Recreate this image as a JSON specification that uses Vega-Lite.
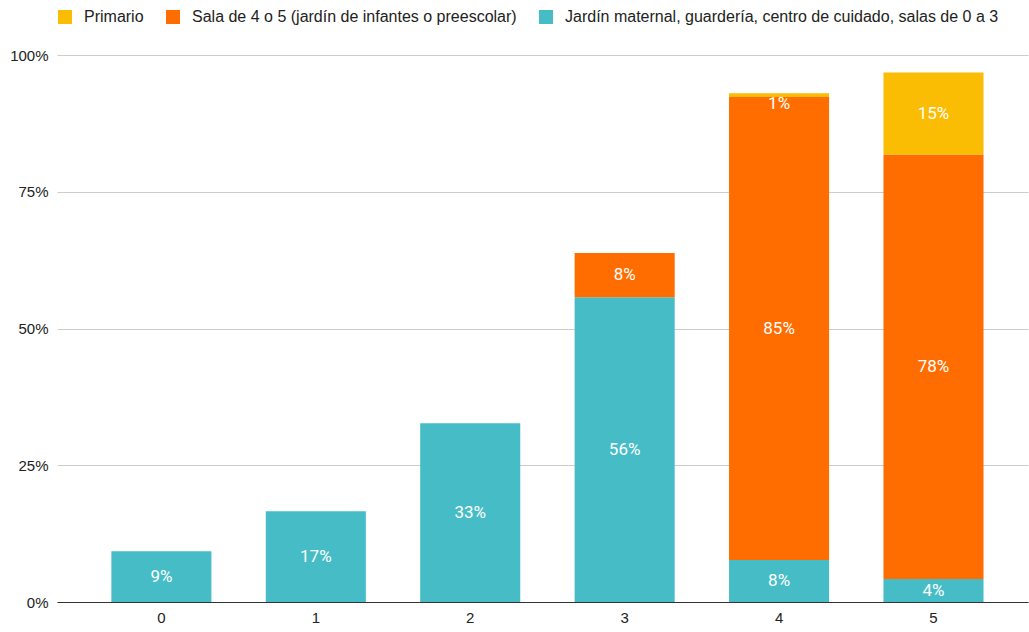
{
  "$schema": "https://vega.github.io/schema/vega-lite/v6.json",
  "width": 971,
  "height": 547,
  "autosize": "none",
  "padding": {"left": 57, "top": 55, "right": 1, "bottom": 30},
  "config": {"view": {"stroke": null}, "font": "Liberation Sans"},
  "data": {
    "values": [
      {"edad": "0", "serie": "Jardín maternal, guardería, centro de cuidado, salas de 0 a 3", "valor": 0.093},
      {"edad": "1", "serie": "Jardín maternal, guardería, centro de cuidado, salas de 0 a 3", "valor": 0.166},
      {"edad": "2", "serie": "Jardín maternal, guardería, centro de cuidado, salas de 0 a 3", "valor": 0.327},
      {"edad": "3", "serie": "Jardín maternal, guardería, centro de cuidado, salas de 0 a 3", "valor": 0.557},
      {"edad": "3", "serie": "Sala de 4 o 5 (jardín de infantes o preescolar)", "valor": 0.081},
      {"edad": "4", "serie": "Jardín maternal, guardería, centro de cuidado, salas de 0 a 3", "valor": 0.077},
      {"edad": "4", "serie": "Sala de 4 o 5 (jardín de infantes o preescolar)", "valor": 0.846},
      {"edad": "4", "serie": "Primario", "valor": 0.007},
      {"edad": "5", "serie": "Jardín maternal, guardería, centro de cuidado, salas de 0 a 3", "valor": 0.042},
      {"edad": "5", "serie": "Sala de 4 o 5 (jardín de infantes o preescolar)", "valor": 0.776},
      {"edad": "5", "serie": "Primario", "valor": 0.15}
    ]
  },
  "transform": [
    {"calculate": "indexof(['Jardín maternal, guardería, centro de cuidado, salas de 0 a 3','Sala de 4 o 5 (jardín de infantes o preescolar)','Primario'], datum.serie)", "as": "ord"},
    {"stack": "valor", "groupby": ["edad"], "sort": [{"field": "ord", "order": "ascending"}], "as": ["y0", "y1"]},
    {"calculate": "min((datum.y0 + datum.y1) / 2, datum.y1 - 0.019)", "as": "mid"}
  ],
  "encoding": {
    "x": {
      "field": "edad",
      "type": "nominal",
      "scale": {"paddingInner": 0.352, "paddingOuter": 0.32, "align": 0.55},
      "axis": {
        "title": null,
        "labelAngle": 0,
        "labelFontSize": 15,
        "labelColor": "#222222",
        "domainColor": "#333333",
        "ticks": false,
        "labelPadding": 8
      }
    }
  },
  "layer": [
    {
      "mark": {"type": "bar"},
      "encoding": {
        "y": {
          "field": "y0",
          "type": "quantitative",
          "scale": {"domain": [0, 1]},
          "axis": {
            "title": null,
            "values": [0, 0.25, 0.5, 0.75, 1],
            "format": ".0%",
            "labelFontSize": 15,
            "labelColor": "#222222",
            "gridColor": "#cccccc",
            "domain": false,
            "ticks": false,
            "labelPadding": 9
          }
        },
        "y2": {"field": "y1"},
        "color": {
          "field": "serie",
          "type": "nominal",
          "scale": {
            "domain": ["Primario", "Sala de 4 o 5 (jardín de infantes o preescolar)", "Jardín maternal, guardería, centro de cuidado, salas de 0 a 3"],
            "range": ["#fbbc04", "#ff6d01", "#46bdc6"]
          },
          "legend": {
            "title": null,
            "orient": "none",
            "legendX": 0,
            "legendY": -46,
            "direction": "horizontal",
            "symbolType": "square",
            "symbolSize": 196,
            "symbolStrokeWidth": 0,
            "labelFontSize": 16,
            "labelLimit": 0,
            "labelColor": "#222222",
            "labelOffset": 11,
            "columnPadding": 21
          }
        }
      }
    },
    {
      "mark": {"type": "text", "color": "white", "fontSize": 17, "font": "Roboto", "baseline": "middle"},
      "encoding": {
        "y": {"field": "mid", "type": "quantitative"},
        "text": {"field": "valor", "type": "quantitative", "format": ".0%"}
      }
    }
  ]
}
